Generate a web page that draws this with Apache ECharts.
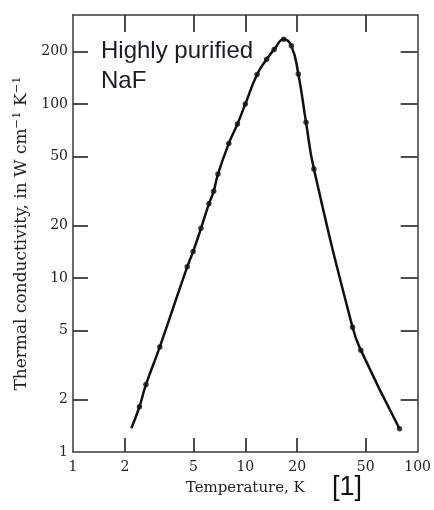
<!DOCTYPE html>
<html>
<head>
<meta charset="utf-8">
<script src="https://cdn.jsdelivr.net/npm/echarts@6/dist/echarts.min.js"></script>
<style>
html,body{margin:0;padding:0;background:#fff;}
#chart{width:434px;height:510px;}
</style>
</head>
<body>
<div id="chart"></div>
<script>
// Measured points (temperature in K, thermal conductivity in W cm^-1 K^-1)
const temperature = [2.43, 2.65, 3.19, 4.60, 4.98, 5.53, 6.15, 6.55, 6.94, 8.02, 9.00, 10.0, 11.7, 13.3, 14.7, 16.7, 18.5, 20.3, 22.5, 25.0, 41.9, 46.8, 78.5];
const conductivity = [1.82, 2.44, 4.02, 11.6, 14.2, 19.3, 26.7, 31.5, 39.6, 59.3, 76.8, 100, 148, 181, 206, 236, 216, 149, 78.6, 42.4, 5.21, 3.85, 1.36];
// Curve begins slightly before the first measured point
const curveStartT = [2.18];
const curveStartK = [1.37];
const curveT = curveStartT.concat(temperature);
const curveK = curveStartK.concat(conductivity);

const xTicks = [1, 2, 5, 10, 20, 50, 100];
const yTicks = [1, 2, 5, 10, 20, 50, 100, 200];

const points = temperature.map((t, i) => [t, conductivity[i]]);
const curve = curveT.map((t, i) => [t, curveK[i]]);

const serif = '"DejaVu Serif", serif';
const frame = '#3a3a3a';
const txt = '#222';

const chart = echarts.init(document.getElementById('chart'), null, {renderer: 'canvas'});
const baseX = {
  type: 'log', logBase: 10, min: 1, max: 100,
  splitLine: {show: false},
  axisLine: {show: true, lineStyle: {color: frame, width: 1.5}},
};
const baseY = {
  type: 'log', logBase: 10, min: 1, max: 325,
  splitLine: {show: false},
  axisLine: {show: true, lineStyle: {color: frame, width: 1.5}},
};
chart.setOption({
  animation: false,
  backgroundColor: '#fff',
  grid: {left: 73, right: 13, top: 15, bottom: 58},
  xAxis: [
    Object.assign({}, baseX, {
      position: 'bottom',
      name: 'Temperature, K',
      nameLocation: 'middle', nameGap: 29,
      nameTextStyle: {fontFamily: serif, fontSize: 15, color: txt},
      axisTick: {show: true, inside: true, length: 14, customValues: [2, 5, 10, 20, 50], lineStyle: {color: frame, width: 1.8}},
      axisLabel: {customValues: xTicks, fontFamily: serif, fontSize: 14, color: txt, margin: 8, formatter: v => String(Math.round(v))}
    }),
    Object.assign({}, baseX, {
      position: 'top',
      axisTick: {show: true, inside: true, length: 17, customValues: [2, 5, 10, 20, 50], lineStyle: {color: frame, width: 1.8}},
      axisLabel: {show: false}
    })
  ],
  yAxis: [
    Object.assign({}, baseY, {
      position: 'left',
      name: 'Thermal conductivity, in W cm{sup|−1} K{sup|−1}',
      nameLocation: 'middle', nameGap: 35, nameRotate: 90,
      nameTextStyle: {fontFamily: serif, fontSize: 17, color: txt,
        rich: {sup: {fontFamily: serif, fontSize: 11.5, color: txt, verticalAlign: 'top', padding: [0, 0, 9, 0]}}},
      axisTick: {show: true, inside: true, length: 15, customValues: [2, 5, 10, 20, 50, 100, 200], lineStyle: {color: frame, width: 1.8}},
      axisLabel: {customValues: yTicks, fontFamily: serif, fontSize: 14, color: txt, margin: 5, formatter: v => String(Math.round(v))}
    }),
    Object.assign({}, baseY, {
      position: 'right',
      axisTick: {show: true, inside: true, length: 17, customValues: [2, 5, 10, 20, 50, 100, 200], lineStyle: {color: frame, width: 1.8}},
      axisLabel: {show: false}
    })
  ],
  graphic: [
    {type: 'text', left: 101, top: 36, style: {text: 'Highly purified\nNaF', fontFamily: '"Liberation Sans", Arial, sans-serif', fontSize: 24, lineHeight: 30, fill: '#1c1c28'}},
    {type: 'text', left: 332, top: 474, style: {text: '[1]', fontFamily: '"Liberation Sans", Arial, sans-serif', fontSize: 27, fill: '#111'}}
  ],
  series: [
    {type: 'line', xAxisIndex: 0, yAxisIndex: 0, data: curve, smooth: 0.5, showSymbol: false,
      lineStyle: {color: '#111', width: 2.5}, silent: true},
    {type: 'scatter', xAxisIndex: 0, yAxisIndex: 0, data: points, symbol: 'circle', symbolSize: 5.5,
      itemStyle: {color: '#111'}}
  ]
});
</script>
</body>
</html>
